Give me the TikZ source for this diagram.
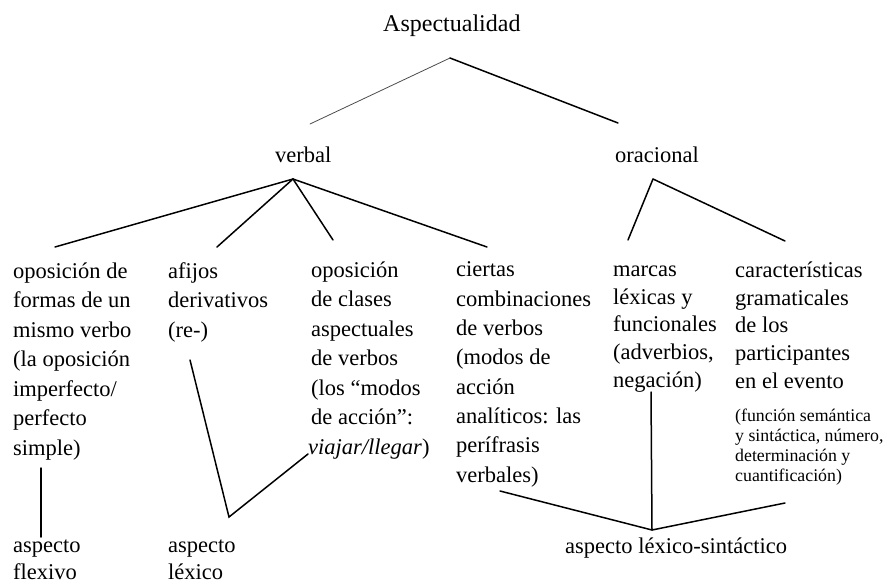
\documentclass[tikz,border=0pt]{standalone}
\usepackage{fontspec}
\setmainfont{Liberation Serif}
\begin{document}
\begin{tikzpicture}[x=1pt,y=-1pt,
  txt/.style={anchor=base west, align=left, inner sep=0pt, font=\fontsize{22.5}{29.5}\selectfont},
  txtb/.style={anchor=base west, align=left, inner sep=0pt, font=\fontsize{22.5}{27.6}\selectfont},
  small/.style={anchor=base west, align=left, inner sep=0pt, font=\fontsize{17.8}{20}\selectfont},
  conn/.style={line width=1.5pt, line cap=round, line join=miter},
  thinconn/.style={line width=0.8pt, black!70, line cap=round}]
\useasboundingbox (0,0) rectangle (888,583);

% texts (multi-line nodes are placed by the baseline of their last line)
\node[txt, font=\fontsize{24}{29}\selectfont] (asp) at (383,32) {Aspectualidad};
\node[txt] (verbal) at (275,162) {verbal};
\node[txt] (oracional) at (615,162) {oracional};
\node[txt] (c1) at (13,455) {oposición de\\formas de un\\mismo verbo\\(la oposición\\imperfecto/\\perfecto\\simple)};
\node[txt] (c2) at (168,337) {afijos\\derivativos\\(re-)};
\node[txt] (c3) at (311,454) {oposición\\de clases\\aspectuales\\de verbos\\(los “modos\\de acción”:\\\kern-3pt\textit{viajar/llegar})};
\node[txt, font=\fontsize{22.5}{29.3}\selectfont] (c4) at (456,482) {ciertas\\combinaciones\\de verbos\\(modos de\\acción\\analíticos: las\\perífrasis\\verbales)};
\node[txtb] (c5) at (613,387) {marcas\\léxicas y\\funcionales\\(adverbios,\\negación)};
\node[txtb] (c6) at (735,388) {características\\gramaticales\\de los\\participantes\\en el evento};
\node[small] (c6s) at (735,481) {(función semántica\\y sintáctica, número,\\determinación y\\cuantificación)};
\node[txt, font=\fontsize{22.5}{27}\selectfont] (flex) at (13,579) {aspecto\\flexivo};
\node[txt, font=\fontsize{22.5}{27}\selectfont] (lex) at (168,579) {aspecto\\léxico};
\node[txt] (lexsint) at (565,553) {aspecto léxico-sintáctico};

% connector points
\coordinate (aspTop) at (450,58);
\coordinate (verbUp) at (310,124);
\coordinate (oracUp) at (618,123);
\coordinate (verbApex) at (293,179);
\coordinate (e1) at (55,247);
\coordinate (e2) at (217,247);
\coordinate (e3) at (333,240);
\coordinate (e4) at (487,247);
\coordinate (oracApex) at (653,179);
\coordinate (e5) at (628,240);
\coordinate (e6) at (785,241);
\coordinate (flexTop) at (41,468);
\coordinate (flexBot) at (41,537);
\coordinate (afTop) at (190,360);
\coordinate (lexV) at (229,517);
\coordinate (viaj) at (308,454);
\coordinate (negBot) at (651,392);
\coordinate (sintV) at (652,530);
\coordinate (verbEnd) at (500,491);
\coordinate (cuantEnd) at (785,503);

% connectors
\draw[thinconn] (aspTop) -- (verbUp);
\draw[conn] (aspTop) -- (oracUp);
\draw[conn] (verbApex) -- (e1);
\draw[conn] (verbApex) -- (e2);
\draw[conn] (verbApex) -- (e3);
\draw[conn] (verbApex) -- (e4);
\draw[conn] (oracApex) -- (e5);
\draw[conn] (oracApex) -- (e6);
\draw[conn] (flexTop) -- (flexBot);
\draw[conn] (afTop) -- (lexV) -- (viaj);
\draw[conn] (negBot) -- (sintV);
\draw[conn] (verbEnd) -- (sintV) -- (cuantEnd);
\end{tikzpicture}
\end{document}
